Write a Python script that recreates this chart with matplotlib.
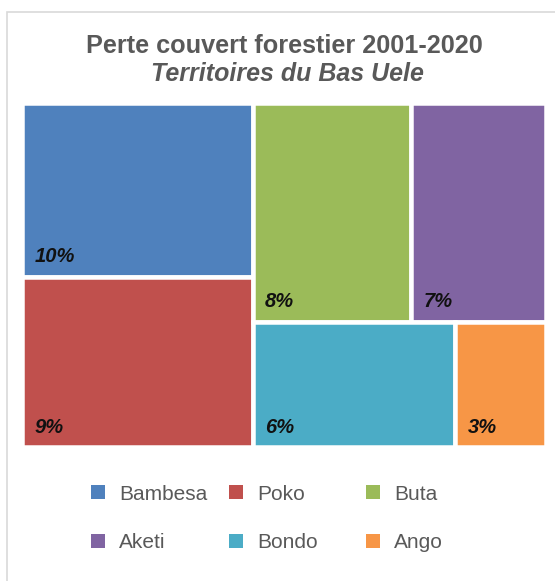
import matplotlib
matplotlib.use("Agg")
import matplotlib.pyplot as plt
from matplotlib.patches import Rectangle

# ---- data ----
categories = ["Bambesa", "Poko", "Buta", "Aketi", "Bondo", "Ango"]
values = [9.5, 9.3, 8.2, 7.0, 6.0, 2.7]
labels = ["10%", "9%", "8%", "7%", "6%", "3%"]
colors = ["#4F81BD", "#C0504D", "#9BBB59", "#8064A2", "#4BACC6", "#F79646"]
title = "Perte couvert forestier 2001-2020"
subtitle = "Territoires du Bas Uele"

FIG_W, FIG_H = 555, 581
DPI = 100
TEXT_GRAY = "#595959"
FONT = "Liberation Sans"


def worst(row, side):
    s = sum(row)
    return max(max(side * side * r / (s * s), (s * s) / (side * side * r)) for r in row)


def squarify(vals, x, y, w, h):
    """Squarified treemap; returns (x, y, w, h) per value, y measured downward."""
    total = sum(vals)
    scale = w * h / total
    areas = [v * scale for v in vals]
    rects = []
    i = 0
    while i < len(areas):
        side = min(w, h)
        row = [areas[i]]
        j = i + 1
        while j < len(areas) and worst(row + [areas[j]], side) <= worst(row, side):
            row.append(areas[j])
            j += 1
        s = sum(row)
        if w >= h:
            cw = s / h
            cy = y
            for a in row:
                rh = a / cw
                rects.append((x, cy, cw, rh))
                cy += rh
            x += cw
            w -= cw
        else:
            rh = s / w
            cx = x
            for a in row:
                rw = a / rh
                rects.append((cx, y, rw, rh))
                cx += rw
            y += rh
            h -= rh
        i = j
    return rects


fig = plt.figure(figsize=(FIG_W / DPI, FIG_H / DPI), dpi=DPI)
fig.patch.set_facecolor("white")

# frame (right and bottom edges run off the canvas)
fig.add_artist(Rectangle((6.5 / FIG_W, -0.2), 1.5, 1.2 - 11.5 / FIG_H,
                         transform=fig.transFigure, fill=False,
                         edgecolor="#D9D9D9", linewidth=1.2))

# plot area in pixels (outer edge, half of the white gap included)
GAP = 4.5
L, R, T, B = 24 - GAP / 2, 544 + GAP / 2, 105 - GAP / 2, 445 + GAP / 2
ax = fig.add_axes([L / FIG_W, 1 - B / FIG_H, (R - L) / FIG_W, (B - T) / FIG_H])
PW, PH = 100.0, 100.0 * (B - T) / (R - L)
ax.set_xlim(0, PW)
ax.set_ylim(PH, 0)
ax.axis("off")

rects = squarify(values, 0, 0, PW, PH)
for (rx, ry, rw, rh), c, lab in zip(rects, colors, labels):
    ax.add_patch(Rectangle((rx, ry), rw, rh, facecolor=c, edgecolor="white",
                           linewidth=GAP * 72 / DPI))
    ax.annotate(lab, (rx, ry + rh), xytext=(9, 10.5), textcoords="offset points",
                ha="left", va="baseline", fontsize=14.5, fontweight="bold",
                fontstyle="italic", color="#111111", family=FONT)

# titles
fig.text(284 / FIG_W, 1 - 53 / FIG_H, title, ha="center", va="baseline",
         fontsize=18.2, fontweight="bold", color=TEXT_GRAY, family=FONT)
fig.text(287 / FIG_W, 1 - 81 / FIG_H, subtitle, ha="center", va="baseline",
         fontsize=18, fontweight="bold", fontstyle="italic", color=TEXT_GRAY,
         family=FONT)

# legend (3 columns, 2 rows)
col_x = [91, 229, 366]
row_y = [492, 541]
sq = 14
for k, (name, c) in enumerate(zip(categories, colors)):
    cx = col_x[k % 3]
    cy = row_y[k // 3]
    fig.add_artist(Rectangle((cx / FIG_W, 1 - (cy + sq / 2) / FIG_H),
                             sq / FIG_W, sq / FIG_H, transform=fig.transFigure,
                             facecolor=c, edgecolor="none"))
    fig.text((cx + 28) / FIG_W, 1 - cy / FIG_H, name, ha="left",
             va="center_baseline", fontsize=15, color=TEXT_GRAY, family=FONT)

fig.savefig("out.png", dpi=DPI, facecolor="white")
